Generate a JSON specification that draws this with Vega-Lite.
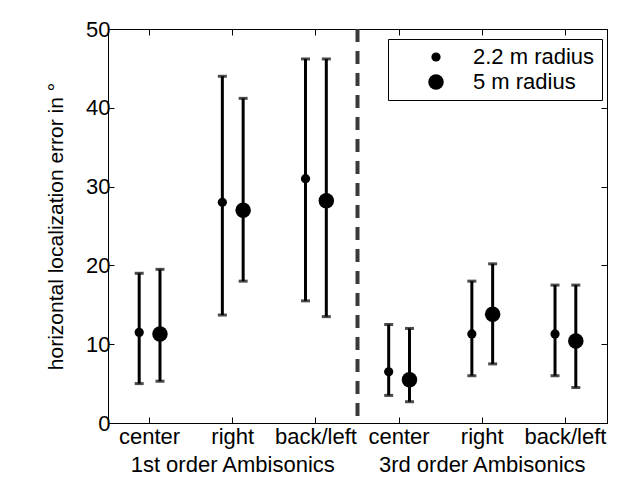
{
  "$schema": "https://vega.github.io/schema/vega-lite/v6.json",
  "width": 499,
  "height": 394,
  "autosize": "none",
  "padding": {"left": 108, "top": 29, "right": 12, "bottom": 72},
  "background": "white",
  "data": {
    "values": [
      {"cond": "1st center", "radius": "2.2 m radius", "mean": 11.5, "low": 5.0, "high": 19.0},
      {"cond": "1st center", "radius": "5 m radius", "mean": 11.3, "low": 5.3, "high": 19.5},
      {"cond": "1st right", "radius": "2.2 m radius", "mean": 28.0, "low": 13.7, "high": 44.0},
      {"cond": "1st right", "radius": "5 m radius", "mean": 27.0, "low": 18.0, "high": 41.2},
      {"cond": "1st back/left", "radius": "2.2 m radius", "mean": 31.0, "low": 15.5, "high": 46.2},
      {"cond": "1st back/left", "radius": "5 m radius", "mean": 28.2, "low": 13.5, "high": 46.2},
      {"cond": "3rd center", "radius": "2.2 m radius", "mean": 6.5, "low": 3.5, "high": 12.5},
      {"cond": "3rd center", "radius": "5 m radius", "mean": 5.5, "low": 2.7, "high": 12.0},
      {"cond": "3rd right", "radius": "2.2 m radius", "mean": 11.3, "low": 6.0, "high": 18.0},
      {"cond": "3rd right", "radius": "5 m radius", "mean": 13.8, "low": 7.5, "high": 20.2},
      {"cond": "3rd back/left", "radius": "2.2 m radius", "mean": 11.3, "low": 6.0, "high": 17.5},
      {"cond": "3rd back/left", "radius": "5 m radius", "mean": 10.4, "low": 4.5, "high": 17.5}
    ]
  },
  "config": {
    "font": "Liberation Sans",
    "view": {"stroke": "black", "strokeWidth": 1},
    "axis": {
      "grid": false,
      "domainColor": "black",
      "tickColor": "black",
      "labelColor": "black",
      "titleColor": "black",
      "labelFont": "Liberation Sans",
      "titleFont": "Liberation Sans",
      "labelFontSize": 22,
      "titleFontSize": 21,
      "titleFontWeight": "normal",
      "labelLimit": 0,
      "tickSize": -6,
      "tickWidth": 1,
      "domainWidth": 1
    }
  },
  "resolve": {"axis": {"x": "independent", "y": "independent"}},
  "layer": [
    {
      "mark": {"type": "rule", "color": "black", "strokeWidth": 3},
      "encoding": {
        "x": {
          "field": "cond", "type": "nominal",
          "scale": {"domain": ["1st center", "1st right", "1st back/left", "3rd center", "3rd right", "3rd back/left"], "paddingInner": 0, "paddingOuter": 0},
          "axis": {
            "orient": "bottom", "title": null, "labelAngle": 0, "labelPadding": 9, "labelLineHeight": 28, "labelLimit": 0,
            "labelExpr": "datum.value == '1st right' ? ['right', '1st order Ambisonics'] : datum.value == '3rd right' ? ['right', '3rd order Ambisonics'] : slice(datum.value, 4)"
          }
        },
        "xOffset": {"field": "radius", "type": "nominal", "scale": {"domain": ["2.2 m radius", "5 m radius"], "paddingInner": 0, "paddingOuter": 1.5}},
        "y": {
          "field": "low", "type": "quantitative",
          "scale": {"domain": [0, 50], "nice": false, "zero": true},
          "axis": {"orient": "left", "values": [0, 10, 20, 30, 40, 50], "labelPadding": 4, "title": "horizontal localization error in °", "titlePadding": 19}
        },
        "y2": {"field": "high"}
      }
    },
    {
      "mark": {"type": "tick", "color": "black", "orient": "horizontal", "size": 9, "thickness": 3},
      "encoding": {
        "x": {"field": "cond", "type": "nominal", "axis": null},
        "xOffset": {"field": "radius", "type": "nominal"},
        "y": {"field": "low", "type": "quantitative", "axis": null}
      }
    },
    {
      "mark": {"type": "tick", "color": "black", "orient": "horizontal", "size": 9, "thickness": 3},
      "encoding": {
        "x": {"field": "cond", "type": "nominal", "axis": null},
        "xOffset": {"field": "radius", "type": "nominal"},
        "y": {"field": "high", "type": "quantitative", "axis": {"orient": "right", "values": [0, 10, 20, 30, 40, 50], "labels": false, "title": null}}
      }
    },
    {
      "mark": {"type": "circle", "color": "black", "opacity": 1},
      "encoding": {
        "x": {"field": "cond", "type": "nominal", "axis": null},
        "xOffset": {"field": "radius", "type": "nominal"},
        "y": {"field": "mean", "type": "quantitative", "axis": null},
        "size": {
          "field": "radius", "type": "nominal",
          "scale": {"domain": ["2.2 m radius", "5 m radius"], "range": [85, 240]},
          "legend": {
            "title": null, "orient": "none", "legendX": 280, "legendY": 10,
            "strokeColor": "black", "fillColor": "white", "padding": 7,
            "labelFontSize": 22, "labelColor": "black", "labelFont": "Liberation Sans",
            "symbolFillColor": "black", "symbolStrokeWidth": 0, "symbolType": "circle",
            "symbolOffset": 30, "labelOffset": 26, "rowPadding": 3
          }
        }
      }
    },
    {
      "data": {"values": [{"sep": "1st back/left"}]},
      "mark": {"type": "rule", "color": "#3a3a3a", "strokeWidth": 4, "strokeDash": [13, 9]},
      "encoding": {
        "x": {"field": "sep", "type": "nominal", "bandPosition": 1, "axis": {"orient": "top", "labels": false, "title": null}}
      }
    }
  ]
}
